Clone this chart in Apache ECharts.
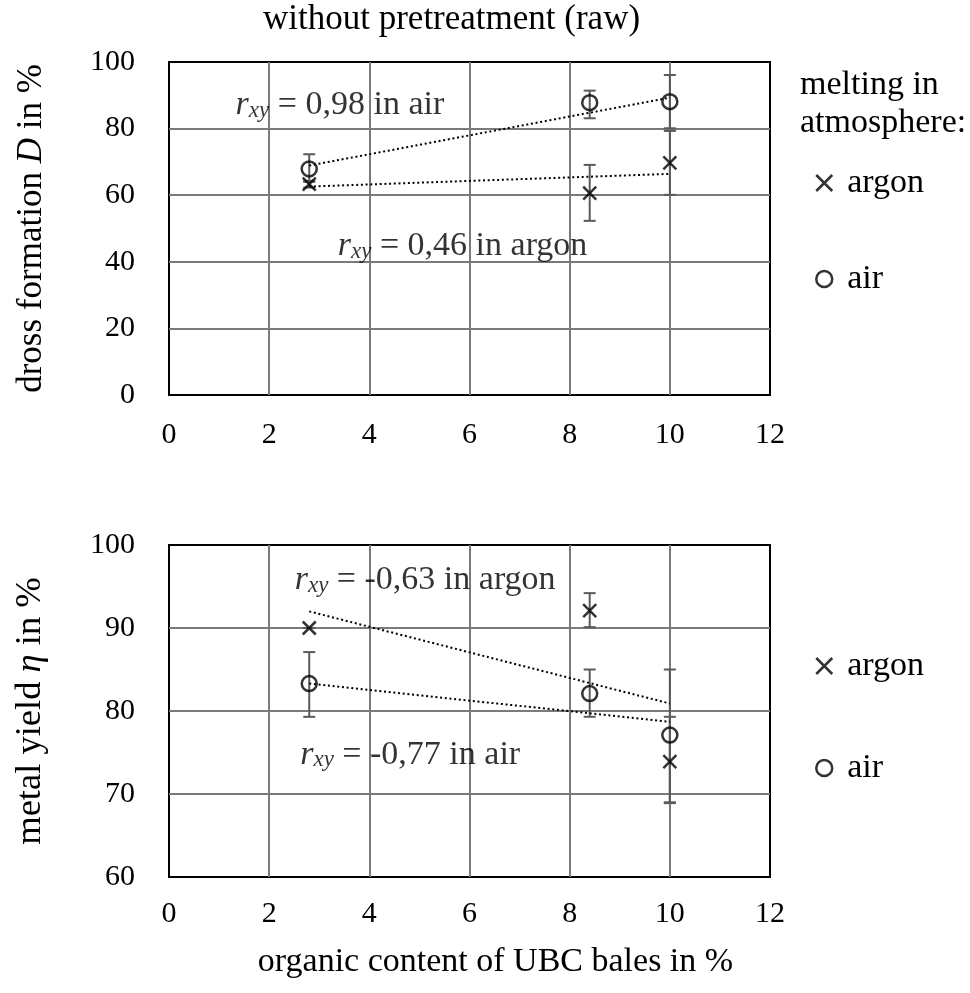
<!DOCTYPE html>
<html>
<head>
<meta charset="utf-8">
<script src="https://cdn.jsdelivr.net/npm/echarts@6/dist/echarts.min.js"></script>
<style>
html,body{margin:0;padding:0;background:#fff;}
#chart{width:970px;height:993px;}
</style>
</head>
<body>
<div id="chart"></div>
<script>
// ---------- data ----------
const organic = [2.8, 8.4, 10];
const trendX = [2.8, 10];

const drossArgon     = [63.3, 60.6, 69.7];
const drossArgonLow  = [62.3, 52.3, 60.1];
const drossArgonHigh = [64.3, 69.1, 79.3];
const drossAir       = [67.9, 87.8, 88.1];
const drossAirLow    = [64.0, 83.1, 80.1];
const drossAirHigh   = [72.3, 91.4, 96.1];
const drossArgonTrend = [62.6, 66.4];
const drossAirTrend   = [68.9, 89.3];

const yieldArgon     = [90.0, 92.1, 73.9];
const yieldArgonLow  = [90.0, 90.1, 68.9];
const yieldArgonHigh = [90.0, 94.2, 79.3];
const yieldAir       = [83.3, 82.1, 77.1];
const yieldAirLow    = [79.3, 79.3, 69.0];
const yieldAirHigh   = [87.1, 85.0, 85.0];
const yieldArgonTrend = [92.0, 80.9];
const yieldAirTrend   = [83.3, 78.7];

const xTicks = [0, 2, 4, 6, 8, 10, 12];
const drossTicks = [0, 20, 40, 60, 80, 100];
const yieldTicks = [60, 70, 80, 90, 100];

const titleText = 'without pretreatment (raw)';
const legendTitle = 'melting in\natmosphere:';
const seriesNames = ['argon', 'air'];
const xName = 'organic content of UBC bales in %';
const drossName = 'dross formation {i|D} in %';
const yieldName = 'metal yield {i|η} in %';

// annotations: [x, y, text after r_xy]
const drossNotes = [[1.33, 91.0, ' = 0,98 in air'], [3.37, 48.5, ' = 0,46 in argon']];
const yieldNotes = [[2.51, 97.35, ' = -0,63 in argon'], [2.62, 76.3, ' = -0,77 in air']];

// ---------- style ----------
const FONT = "'Liberation Serif', 'Times New Roman', serif";
const FS_TICK = 30;
const FS = 34;
const GRID_C = '#7a7a7a';
const ERR_C = '#5a5a5a';
const X_PATH = 'path://M0,0L10,10M10,0L0,10';

function zip(xs, ys) { return xs.map((x, i) => [x, ys[i]]); }
function errData(xs, lo, hi) { return xs.map((x, i) => [x, lo[i], hi[i]]); }

function errRender(params, api) {
  const x = api.value(0), lo = api.value(1), hi = api.value(2);
  const a = api.coord([x, hi]), b = api.coord([x, lo]);
  const w = 6;
  const st = { stroke: ERR_C, lineWidth: 2 };
  return {
    type: 'group',
    children: [
      { type: 'line', shape: { x1: a[0], y1: a[1], x2: b[0], y2: b[1] }, style: st },
      { type: 'line', shape: { x1: a[0] - w, y1: a[1], x2: a[0] + w, y2: a[1] }, style: st },
      { type: 'line', shape: { x1: b[0] - w, y1: b[1], x2: b[0] + w, y2: b[1] }, style: st }
    ]
  };
}

const richNote = {
  r: { fontFamily: FONT, fontSize: FS, fontStyle: 'italic', color: '#000', lineHeight: 60, verticalAlign: 'bottom' },
  s: { fontFamily: FONT, fontSize: 23, fontStyle: 'italic', color: '#000', lineHeight: 20, verticalAlign: 'bottom' },
  t: { fontFamily: FONT, fontSize: FS, color: '#000', lineHeight: 60, verticalAlign: 'bottom' }
};

function noteSeries(notes, idx) {
  return {
    type: 'scatter', xAxisIndex: idx, yAxisIndex: idx, symbolSize: 0, silent: true, z: 10,
    data: notes.map(n => ({ value: [n[0], n[1]], txt: n[2] })),
    label: {
      show: true, position: 'right', distance: 0, color: '#000',
      formatter: p => '{r|r}{s|xy}{t|' + p.data.txt + '}',
      rich: richNote
    }
  };
}

function xAxis(idx, withName) {
  return {
    type: 'value', gridIndex: idx, min: 0, max: 12, interval: 2,
    axisLine: { show: false }, axisTick: { show: false },
    axisLabel: { color: '#000', fontFamily: FONT, fontSize: FS_TICK, margin: idx === 0 ? 25 : 22,
      formatter: v => xTicks.includes(v) ? String(v) : '' },
    splitLine: { show: true, showMinLine: false, showMaxLine: false, lineStyle: { color: GRID_C, width: 2 } },
    name: withName ? xName : '', nameLocation: 'middle', nameGap: 68,
    nameTextStyle: { color: '#000', fontFamily: FONT, fontSize: FS, padding: [0, 0, 0, 52] }
  };
}

function yAxis(idx, min, max, interval, name, ticks, fs) {
  return {
    type: 'value', gridIndex: idx, min: min, max: max, interval: interval,
    axisLine: { show: false }, axisTick: { show: false },
    axisLabel: { color: '#000', fontFamily: FONT, fontSize: FS_TICK, margin: 34,
      formatter: v => ticks.includes(v) ? String(v) : '' },
    splitLine: { show: true, showMinLine: false, showMaxLine: false, lineStyle: { color: GRID_C, width: 2 } },
    name: name, nameLocation: 'middle', nameGap: 120,
    nameTextStyle: { color: '#000', fontFamily: FONT, fontSize: fs,
      rich: { i: { fontFamily: FONT, fontSize: fs, fontStyle: 'italic', color: '#000' } } }
  };
}

function pointSeries(name, idx, data, isX) {
  return {
    name: name, type: 'scatter', xAxisIndex: idx, yAxisIndex: idx, z: 5,
    symbol: isX ? X_PATH : 'circle', symbolSize: isX ? 13 : 15,
    itemStyle: { color: 'rgba(0,0,0,0)', borderColor: '#000', borderWidth: 2.5 },
    emphasis: { disabled: true },
    data: data
  };
}

function trendSeries(idx, ys) {
  return {
    type: 'line', xAxisIndex: idx, yAxisIndex: idx, z: 4, symbol: 'none', silent: true,
    lineStyle: { color: '#000', width: 2, type: [2, 2.7] },
    data: zip(trendX, ys)
  };
}

function errSeries(idx, d) {
  return { type: 'custom', xAxisIndex: idx, yAxisIndex: idx, z: 3, silent: true, renderItem: errRender, data: d };
}

function legendItem(name, top) {
  const isX = name === 'argon';
  return {
    orient: 'vertical', left: 815, top: top, itemWidth: 16, itemHeight: 16, padding: 0,
    selectedMode: false,
    data: [{ name: name, icon: isX ? X_PATH : 'circle',
      itemStyle: { color: 'rgba(0,0,0,0)', borderColor: '#000', borderWidth: 2.5 } }],
    textStyle: { color: '#000', fontFamily: FONT, fontSize: FS, padding: [0, 0, 0, 10] }
  };
}

const option = {
  backgroundColor: '#fff',
  animation: false,
  title: [
    { text: titleText, left: 258, top: -3, textStyle: { color: '#000', fontFamily: FONT, fontSize: 35, fontWeight: 'normal' } },
    { text: legendTitle, left: 795, top: 61, textStyle: { color: '#000', fontFamily: FONT, fontSize: FS, fontWeight: 'normal', lineHeight: 38 } }
  ],
  legend: [
    legendItem(seriesNames[0], 166),
    legendItem(seriesNames[1], 262),
    legendItem(seriesNames[0], 649),
    legendItem(seriesNames[1], 751)
  ],
  grid: [
    { left: 169, top: 62, width: 601, height: 333, show: true, borderColor: '#000', borderWidth: 2, backgroundColor: 'transparent' },
    { left: 169, top: 545, width: 601, height: 332, show: true, borderColor: '#000', borderWidth: 2, backgroundColor: 'transparent' }
  ],
  xAxis: [xAxis(0, false), xAxis(1, true)],
  yAxis: [
    yAxis(0, 0, 100, 20, drossName, drossTicks, 35),
    yAxis(1, 60, 100, 10, yieldName, yieldTicks, 36.5)
  ],
  series: [
    errSeries(0, errData(organic, drossArgonLow, drossArgonHigh)),
    errSeries(0, errData(organic, drossAirLow, drossAirHigh)),
    errSeries(1, errData(organic, yieldArgonLow, yieldArgonHigh)),
    errSeries(1, errData(organic, yieldAirLow, yieldAirHigh)),
    trendSeries(0, drossAirTrend),
    trendSeries(0, drossArgonTrend),
    trendSeries(1, yieldArgonTrend),
    trendSeries(1, yieldAirTrend),
    pointSeries('argon', 0, zip(organic, drossArgon), true),
    pointSeries('air', 0, zip(organic, drossAir), false),
    pointSeries('argon', 1, zip(organic, yieldArgon), true),
    pointSeries('air', 1, zip(organic, yieldAir), false),
    noteSeries(drossNotes, 0),
    noteSeries(yieldNotes, 1)
  ]
};

const chart = echarts.init(document.getElementById('chart'), null, { renderer: 'canvas' });
chart.setOption(option);
</script>
</body>
</html>
